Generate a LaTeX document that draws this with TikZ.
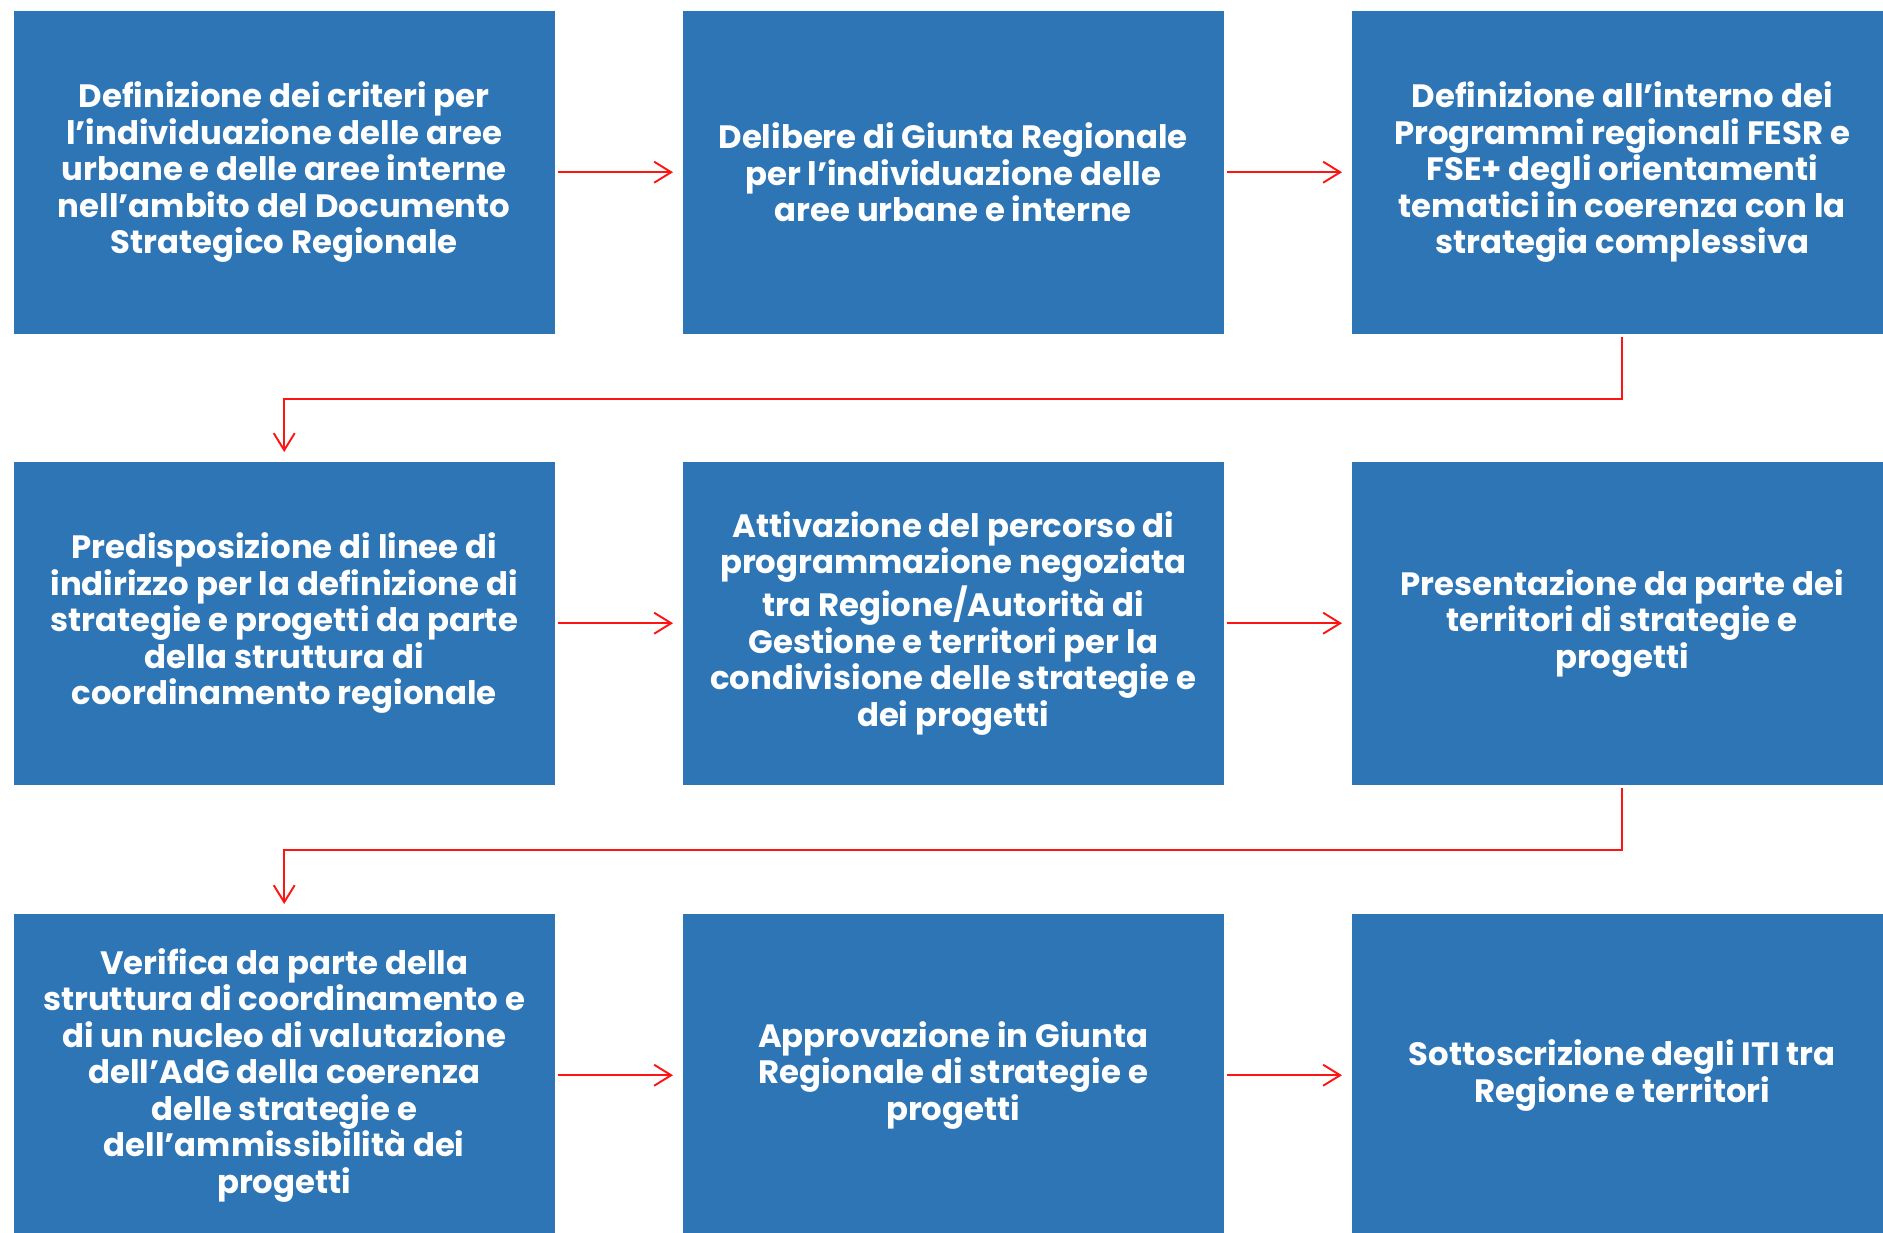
\documentclass[tikz,border=0pt]{standalone}
\usepackage{fontspec}
\setmainfont{Poppins}
\usepackage{xcolor}
\usetikzlibrary{arrows.meta}

\definecolor{bluBox}{RGB}{46,117,182}
\definecolor{rossoFr}{RGB}{255,20,20}

\tikzset{
  box/.style={fill=bluBox, text=white, minimum width=5.41cm, minimum height=3.23cm,
    inner sep=0pt, align=center, anchor=north west,
    font=\fontsize{9.2}{10.4}\selectfont\bfseries},
  arr/.style={rossoFr, line width=0.55pt, -{Straight Barb[length=1.7mm, width=2.1mm]},
    shorten <=0.03cm, shorten >=0.09cm}
}

\begin{document}
\begin{tikzpicture}
		\useasboundingbox (0,0) rectangle (18.83,-12.32);
		% riquadri, prima riga
		\node [box] (b1) at (0.13,-0.10) {Definizione dei criteri per\\l’individuazione delle aree\\urbane e delle aree interne\\nell’ambito del Documento\\Strategico Regionale};
		\node [box] (b2) at (6.82,-0.10) {Delibere di Giunta Regionale\\per l’individuazione delle\\aree urbane e interne};
		\node [box] (b3) at (13.51,-0.10) {Definizione all’interno dei\\Programmi regionali FESR e\\FSE+ degli orientamenti\\tematici in coerenza con la\\strategia complessiva};
		% seconda riga
		\node [box] (b4) at (0.13,-4.61) {Predisposizione di linee di\\indirizzo per la definizione di\\strategie e progetti da parte\\della struttura di\\coordinamento regionale};
		\node [box] (b5) at (6.82,-4.61) {Attivazione del percorso di\\programmazione negoziata\\tra Regione/Autorità di\\Gestione e territori per la\\condivisione delle strategie e\\dei progetti};
		\node [box] (b6) at (13.51,-4.61) {Presentazione da parte dei\\territori di strategie e\\progetti};
		% terza riga
		\node [box] (b7) at (0.13,-9.13) {Verifica da parte della\\struttura di coordinamento e\\di un nucleo di valutazione\\dell’AdG della coerenza\\delle strategie e\\dell’ammissibilità dei\\progetti};
		\node [box] (b8) at (6.82,-9.13) {Approvazione in Giunta\\Regionale di strategie e\\progetti};
		\node [box] (b9) at (13.51,-9.13) {Sottoscrizione degli ITI tra\\Regione e territori};
		% frecce
		\draw [arr] (b1.east) -- (b2.west);
		\draw [arr] (b2.east) -- (b3.west);
		\draw [arr] (b3.south) -- ++(0,-0.65) -| (b4.north);
		\draw [arr] (b4.east) -- (b5.west);
		\draw [arr] (b5.east) -- (b6.west);
		\draw [arr] (b6.south) -- ++(0,-0.65) -| (b7.north);
		\draw [arr] (b7.east) -- (b8.west);
		\draw [arr] (b8.east) -- (b9.west);
\end{tikzpicture}
\end{document}
